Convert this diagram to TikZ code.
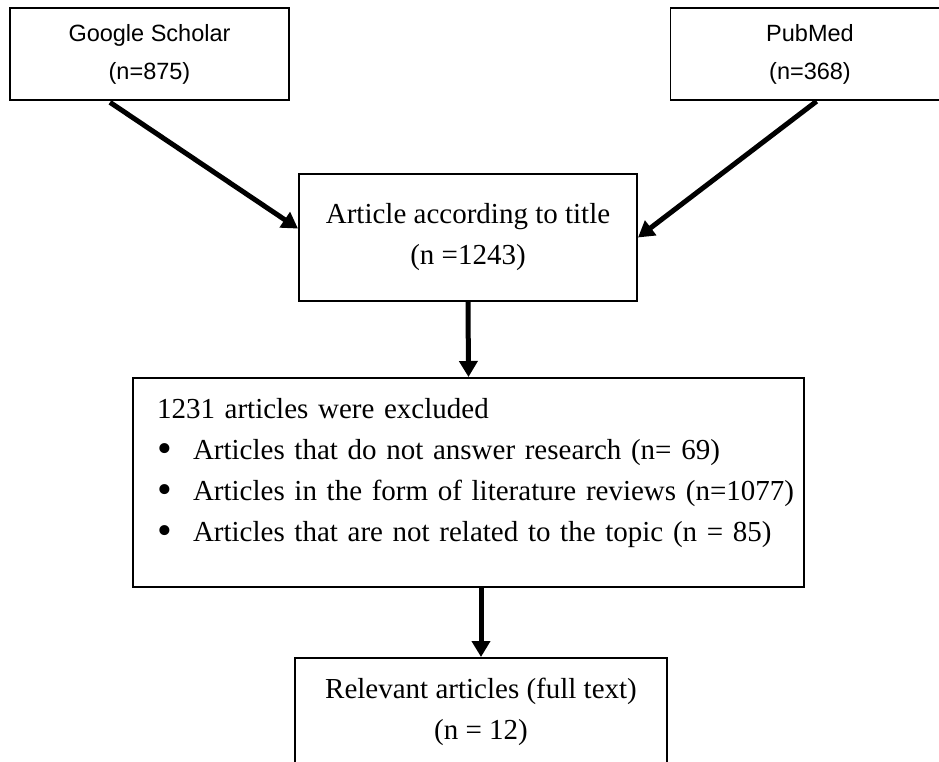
\documentclass[tikz,border=0pt]{standalone}
\usepackage{fontspec}
\setmainfont{Liberation Serif}
\newfontfamily\arialfont{Liberation Sans}
\usetikzlibrary{arrows.meta,positioning}

\newcommand{\bulletmark}{\makebox[36pt][l]{\raisebox{-2.5pt}{\scalebox{1.45}{\textbullet}}}}

\begin{document}
\begin{tikzpicture}[x=1pt,y=-1pt]
                \tikzset{Source/.style={%
                    shape=rectangle,%
                    draw=black,%
                    line width=1.3pt,%
                    minimum width=279pt,%
                    minimum height=92pt,%
                    align=center,%
                    font=\arialfont\fontsize{23.5}{38}\selectfont,%
                    execute at begin node={\mbox{}\\[-15pt]},%
                }}
                \tikzset{Stage/.style={%
                    shape=rectangle,%
                    draw=black,%
                    line width=2pt,%
                    align=center,%
                    font=\fontsize{29}{41}\selectfont,%
                }}
                \tikzset{Flow/.style={%
                    -{Triangle[length=16pt,width=18pt]},%
                    line width=5pt,%
                }}

                \useasboundingbox (0,0) rectangle (939,762);

                \node[Source] (gs) at (149.5,54) {Google Scholar\\(n=875)};
                \node[Source] (pm) at (810,54) {PubMed\\(n=368)};
                \node[Stage, minimum width=338pt, minimum height=127pt] (art) at (468,237.5)
                    {Article according to title\\(n =1243)};
                \node[Stage, align=left, text width=623pt, inner xsep=24pt, minimum height=209pt] (excl) at (468.5,482.5)
                    {\mbox{1231 articles were excluded}\\
                     \mbox{\bulletmark Articles that do not answer research (n= 69)}\\
                     \mbox{\bulletmark Articles in the form of literature reviews (n=1077)}\\
                     \mbox{\bulletmark Articles that are not related to the topic (n = 85)}\\[-16pt]\mbox{}};
                \node[Stage, minimum width=372pt, minimum height=108pt] (rel) at (481,712)
                    {Relevant articles (full text)\\(n = 12)};

                \path (gs.228) edge[Flow, shorten <=3pt] (art.177);
                \path (pm.279) edge[Flow, shorten <=1pt] (art.east);
                \path (art.south) edge[Flow] (excl.north);
                \path (excl.south -| rel.north) edge[Flow] (rel.north);
            \end{tikzpicture}
\end{document}
